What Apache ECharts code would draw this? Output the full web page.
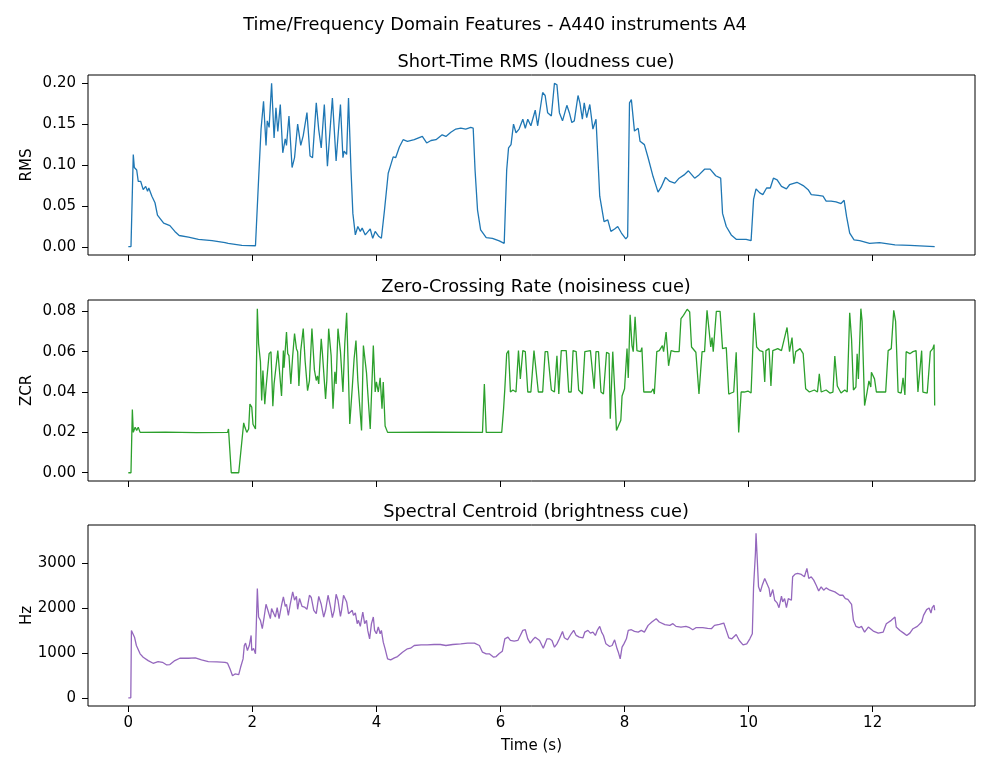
<!DOCTYPE html>
<html>
<head>
<meta charset="utf-8">
<script src="https://cdn.jsdelivr.net/npm/echarts@6/dist/echarts.min.js"></script>
<style>
  html, body { margin: 0; padding: 0; background: #fff; }
  #chart { width: 990px; height: 770px; }
</style>
</head>
<body>
<div id="chart"></div>
<script>
// time (s), value pairs
const rmsPoints = [
  [0, 0.0005], [0.043, 0.0005], [0.08, 0.113], [0.097, 0.097], [0.135, 0.094], [0.16, 0.080], [0.2, 0.080],
  [0.24, 0.070], [0.28, 0.074], [0.31, 0.068], [0.33, 0.072], [0.38, 0.062], [0.43, 0.054], [0.47, 0.039],
  [0.51, 0.035], [0.57, 0.029], [0.60, 0.030], [0.67, 0.026], [0.75, 0.019], [0.82, 0.014], [0.97, 0.012],
  [1.13, 0.0094], [1.35, 0.0078], [1.56, 0.0053], [1.61, 0.0045], [1.83, 0.002], [2.05, 0.0015],
  [2.10, 0.082], [2.14, 0.144], [2.18, 0.178], [2.22, 0.124], [2.24, 0.154], [2.27, 0.146], [2.31, 0.200],
  [2.35, 0.133], [2.38, 0.170], [2.41, 0.141], [2.45, 0.174], [2.49, 0.115], [2.53, 0.132], [2.55, 0.124],
  [2.59, 0.160], [2.64, 0.097], [2.68, 0.109], [2.73, 0.150], [2.78, 0.124], [2.82, 0.136], [2.88, 0.164],
  [2.93, 0.111], [2.97, 0.109], [3.03, 0.176], [3.07, 0.143], [3.11, 0.121], [3.16, 0.174], [3.21, 0.0985],
  [3.29, 0.182], [3.35, 0.105], [3.42, 0.174], [3.46, 0.109], [3.48, 0.117], [3.52, 0.113], [3.55, 0.182],
  [3.59, 0.094], [3.62, 0.041], [3.66, 0.0147], [3.70, 0.025], [3.74, 0.019], [3.77, 0.023], [3.82, 0.0147],
  [3.90, 0.022], [3.94, 0.0106], [3.98, 0.019], [4.04, 0.0127], [4.08, 0.0106], [4.13, 0.045], [4.19, 0.090],
  [4.23, 0.100], [4.27, 0.110], [4.31, 0.109], [4.37, 0.122], [4.43, 0.131], [4.50, 0.129], [4.61, 0.131],
  [4.74, 0.135], [4.81, 0.127], [4.88, 0.130], [4.96, 0.131], [5.06, 0.137], [5.12, 0.135], [5.20, 0.140],
  [5.28, 0.144], [5.36, 0.145], [5.44, 0.144], [5.52, 0.146], [5.56, 0.145], [5.59, 0.094], [5.63, 0.045],
  [5.68, 0.021], [5.77, 0.0114], [5.87, 0.0106], [5.98, 0.0074], [6.06, 0.0045], [6.10, 0.094], [6.13, 0.121],
  [6.17, 0.125], [6.21, 0.150], [6.25, 0.1395], [6.30, 0.144], [6.36, 0.156], [6.40, 0.145], [6.44, 0.156],
  [6.49, 0.148], [6.56, 0.167], [6.60, 0.148], [6.68, 0.1886], [6.72, 0.185], [6.76, 0.164], [6.82, 0.160],
  [6.87, 0.200], [6.91, 0.198], [6.95, 0.164], [7.00, 0.154], [7.07, 0.173], [7.11, 0.164], [7.15, 0.152],
  [7.19, 0.154], [7.25, 0.185], [7.28, 0.176], [7.32, 0.156], [7.35, 0.176], [7.39, 0.158], [7.44, 0.174],
  [7.49, 0.144], [7.54, 0.156], [7.60, 0.062], [7.67, 0.031], [7.73, 0.033], [7.78, 0.019], [7.84, 0.022],
  [7.89, 0.025], [7.95, 0.017], [8.02, 0.0098], [8.05, 0.0127], [8.08, 0.176], [8.11, 0.180], [8.16, 0.1415],
  [8.22, 0.145], [8.25, 0.129], [8.32, 0.125], [8.38, 0.109], [8.46, 0.086], [8.54, 0.067], [8.59, 0.073],
  [8.66, 0.085], [8.73, 0.080], [8.81, 0.078], [8.88, 0.084], [8.96, 0.088], [9.03, 0.093], [9.13, 0.084],
  [9.20, 0.088], [9.29, 0.095], [9.38, 0.095], [9.47, 0.087], [9.55, 0.084], [9.58, 0.041], [9.64, 0.025],
  [9.72, 0.0147], [9.80, 0.0094], [9.96, 0.0094], [10.04, 0.0078], [10.08, 0.058], [10.12, 0.071],
  [10.18, 0.066], [10.23, 0.064], [10.29, 0.072], [10.35, 0.072], [10.40, 0.084], [10.46, 0.082],
  [10.53, 0.074], [10.61, 0.071], [10.66, 0.076], [10.78, 0.079], [10.88, 0.075], [10.96, 0.070],
  [11.01, 0.064], [11.12, 0.063], [11.20, 0.062], [11.25, 0.056], [11.33, 0.056], [11.41, 0.055],
  [11.49, 0.053], [11.54, 0.057], [11.58, 0.037], [11.63, 0.0168], [11.70, 0.0086], [11.79, 0.0078],
  [11.95, 0.0045], [12.11, 0.0053], [12.36, 0.0025], [12.60, 0.002], [13.0, 0.0004]
];

const zcrPoints = [
  [0, 0], [0.043, 0], [0.065, 0.0313], [0.08, 0.020], [0.11, 0.0225], [0.135, 0.021], [0.16, 0.0225],
  [0.19, 0.020], [0.6, 0.0201], [1.1, 0.0199], [1.60, 0.020], [1.615, 0.0217], [1.66, 0], [1.78, 0],
  [1.86, 0.0247], [1.88, 0.0225], [1.91, 0.020], [1.94, 0.0217], [1.96, 0.034], [1.99, 0.0325],
  [2.01, 0.024], [2.05, 0.0217], [2.08, 0.0813], [2.10, 0.064], [2.13, 0.055], [2.15, 0.0358],
  [2.17, 0.0507], [2.20, 0.034], [2.22, 0.042], [2.27, 0.059], [2.30, 0.060], [2.33, 0.033], [2.35, 0.044],
  [2.38, 0.044], [2.41, 0.0605], [2.44, 0.060], [2.47, 0.038], [2.50, 0.0605], [2.51, 0.052],
  [2.55, 0.0697], [2.57, 0.059], [2.59, 0.058], [2.62, 0.044], [2.65, 0.058], [2.68, 0.069], [2.71, 0.0615],
  [2.73, 0.060], [2.75, 0.043], [2.78, 0.0605], [2.82, 0.0714], [2.85, 0.0555], [2.89, 0.0407],
  [2.92, 0.0457], [2.96, 0.0714], [3.00, 0.051], [3.03, 0.0457], [3.05, 0.048], [3.07, 0.044],
  [3.11, 0.0664], [3.13, 0.059], [3.18, 0.0366], [3.20, 0.0457], [3.23, 0.0714], [3.27, 0.058],
  [3.30, 0.0317], [3.33, 0.050], [3.35, 0.044], [3.38, 0.0714], [3.42, 0.060], [3.46, 0.040], [3.49, 0.064],
  [3.52, 0.0793], [3.54, 0.058], [3.57, 0.0242], [3.61, 0.042], [3.64, 0.0565], [3.67, 0.0655],
  [3.70, 0.0457], [3.76, 0.0209], [3.79, 0.063], [3.84, 0.0495], [3.86, 0.040], [3.90, 0.0217],
  [3.95, 0.063], [3.98, 0.040], [4.00, 0.045], [4.03, 0.040], [4.06, 0.047], [4.09, 0.0317], [4.11, 0.045],
  [4.14, 0.0232], [4.18, 0.020], [4.9, 0.0201], [5.71, 0.020], [5.74, 0.044], [5.77, 0.020], [6.02, 0.020],
  [6.05, 0.0317], [6.07, 0.0416], [6.10, 0.059], [6.13, 0.0605], [6.16, 0.040], [6.20, 0.041], [6.25, 0.040],
  [6.29, 0.0605], [6.32, 0.0465], [6.36, 0.0605], [6.40, 0.060], [6.44, 0.040], [6.49, 0.040],
  [6.54, 0.0605], [6.57, 0.060], [6.61, 0.040], [6.68, 0.040], [6.72, 0.060], [6.76, 0.060], [6.82, 0.041],
  [6.87, 0.040], [6.91, 0.058], [6.94, 0.039], [6.98, 0.0605], [7.06, 0.0605], [7.10, 0.040], [7.14, 0.040],
  [7.17, 0.0605], [7.22, 0.060], [7.26, 0.041], [7.32, 0.039], [7.36, 0.060], [7.45, 0.0605], [7.48, 0.060],
  [7.51, 0.0416], [7.54, 0.060], [7.58, 0.060], [7.62, 0.040], [7.66, 0.039], [7.71, 0.0597], [7.75, 0.059],
  [7.77, 0.0267], [7.81, 0.060], [7.84, 0.0416], [7.87, 0.0209], [7.90, 0.020], [7.94, 0.026], [7.96, 0.038],
  [8.00, 0.0416], [8.04, 0.0615], [8.06, 0.047], [8.09, 0.0783], [8.12, 0.063], [8.14, 0.060],
  [8.17, 0.0773], [8.20, 0.0605], [8.26, 0.060], [8.28, 0.062], [8.31, 0.040], [8.43, 0.040],
  [8.46, 0.0416], [8.48, 0.039], [8.52, 0.060], [8.56, 0.0605], [8.61, 0.063], [8.63, 0.060],
  [8.67, 0.0697], [8.71, 0.053], [8.75, 0.0605], [8.81, 0.060], [8.88, 0.060], [8.91, 0.0764],
  [8.95, 0.078], [9.01, 0.081], [9.05, 0.0797], [9.08, 0.0623], [9.15, 0.0597], [9.20, 0.039], [9.25, 0.060],
  [9.29, 0.060], [9.33, 0.0805], [9.36, 0.081], [9.39, 0.0623], [9.41, 0.067], [9.43, 0.060], [9.48, 0.080],
  [9.54, 0.080], [9.58, 0.0615], [9.64, 0.062], [9.68, 0.039], [9.72, 0.0395], [9.76, 0.040],
  [9.80, 0.0597], [9.84, 0.020], [9.88, 0.040], [9.93, 0.040], [9.99, 0.0405], [10.04, 0.0395],
  [10.09, 0.0793], [10.13, 0.0623], [10.18, 0.0605], [10.23, 0.060], [10.26, 0.045], [10.28, 0.0605],
  [10.33, 0.0615], [10.36, 0.043], [10.39, 0.0605], [10.47, 0.0615], [10.53, 0.0605], [10.55, 0.060],
  [10.62, 0.072], [10.66, 0.060], [10.70, 0.067], [10.73, 0.054], [10.76, 0.060], [10.83, 0.0615],
  [10.88, 0.059], [10.92, 0.0416], [10.98, 0.040], [11.06, 0.041], [11.11, 0.040], [11.14, 0.049],
  [11.17, 0.040], [11.25, 0.041], [11.31, 0.0395], [11.36, 0.040], [11.39, 0.0578], [11.43, 0.043],
  [11.49, 0.0395], [11.55, 0.041], [11.59, 0.040], [11.63, 0.0793], [11.66, 0.066], [11.69, 0.041],
  [11.73, 0.0425], [11.75, 0.059], [11.77, 0.0465], [11.81, 0.0813], [11.83, 0.075], [11.87, 0.0333],
  [11.91, 0.040], [11.94, 0.0455], [11.97, 0.0425], [11.98, 0.0498], [12.03, 0.0465], [12.06, 0.040],
  [12.14, 0.040], [12.21, 0.040], [12.25, 0.0605], [12.30, 0.0615], [12.34, 0.0805], [12.37, 0.075],
  [12.41, 0.040], [12.46, 0.0395], [12.49, 0.047], [12.52, 0.0385], [12.54, 0.060], [12.60, 0.059],
  [12.65, 0.060], [12.70, 0.0605], [12.73, 0.040], [12.79, 0.0605], [12.81, 0.040], [12.88, 0.0395],
  [12.93, 0.060], [12.97, 0.0615], [12.99, 0.0635], [13.0, 0.0333]
];

const centroidPoints = [
  [0, 0], [0.04, 0], [0.05, 1500], [0.07, 1515], [0.1, 1350], [0.13, 1164], [0.19, 978], [0.24, 903],
  [0.32, 828], [0.40, 768], [0.48, 806], [0.55, 790], [0.62, 731], [0.67, 740], [0.75, 828], [0.83, 880],
  [0.97, 880], [1.08, 888], [1.18, 843], [1.29, 806], [1.43, 800], [1.56, 790], [1.60, 770], [1.64, 642],
  [1.68, 492], [1.72, 530], [1.78, 515], [1.81, 679], [1.85, 866], [1.87, 1164], [1.89, 1216], [1.92, 1052],
  [1.95, 1164], [1.98, 1388], [1.99, 1052], [2.02, 1100], [2.05, 978], [2.08, 2433], [2.10, 1798],
  [2.13, 1724], [2.16, 1538], [2.19, 1798], [2.22, 2082], [2.25, 1948], [2.29, 1761], [2.31, 1985],
  [2.34, 2000], [2.37, 1798], [2.40, 2007], [2.43, 1761], [2.47, 2060], [2.50, 2246], [2.53, 2037],
  [2.55, 2082], [2.58, 1836], [2.61, 2082], [2.65, 2358], [2.68, 2172], [2.71, 2260], [2.73, 1970],
  [2.76, 2209], [2.80, 2037], [2.84, 2020], [2.88, 1970], [2.92, 2283], [2.95, 2232], [2.99, 1948],
  [3.03, 1873], [3.07, 2258], [3.11, 2082], [3.15, 1798], [3.18, 1948], [3.22, 2283], [3.26, 2022],
  [3.29, 1783], [3.32, 1948], [3.35, 2305], [3.38, 2172], [3.42, 1813], [3.44, 1963], [3.47, 2283],
  [3.50, 2320], [3.52, 2134], [3.55, 1873], [3.58, 1836], [3.61, 1948], [3.63, 1836], [3.66, 1888],
  [3.69, 1650], [3.71, 1724], [3.74, 1590], [3.78, 1910], [3.81, 1650], [3.84, 1724], [3.86, 1500],
  [3.89, 1313], [3.92, 1650], [3.95, 1798], [3.97, 1500], [4.00, 1425], [4.03, 1575], [4.06, 1425],
  [4.08, 1500], [4.11, 1238], [4.14, 1090], [4.18, 866], [4.23, 843], [4.29, 888], [4.34, 918], [4.42, 1015],
  [4.50, 1090], [4.55, 1104], [4.61, 1164], [4.72, 1179], [4.82, 1179], [4.93, 1186], [5.03, 1186],
  [5.12, 1164], [5.23, 1186], [5.36, 1201], [5.47, 1216], [5.58, 1216], [5.66, 1164], [5.71, 1015],
  [5.77, 978], [5.82, 978], [5.89, 903], [5.93, 918], [5.98, 985], [6.03, 1037], [6.07, 1313], [6.12, 1350],
  [6.16, 1276], [6.19, 1313], [6.22, 1261], [6.28, 1276], [6.32, 1388], [6.36, 1500], [6.40, 1515],
  [6.44, 1313], [6.48, 1216], [6.52, 1291], [6.56, 1350], [6.58, 1388], [6.63, 1276], [6.69, 1104],
  [6.75, 1313], [6.79, 1313], [6.83, 1276], [6.87, 1127], [6.91, 1201], [6.95, 1313], [7.00, 1478],
  [7.03, 1336], [7.08, 1291], [7.14, 1425], [7.18, 1500], [7.22, 1388], [7.27, 1350], [7.33, 1336],
  [7.36, 1463], [7.41, 1500], [7.45, 1440], [7.49, 1463], [7.53, 1388], [7.56, 1500], [7.60, 1590],
  [7.63, 1463], [7.66, 1388], [7.70, 1201], [7.76, 1142], [7.80, 1164], [7.84, 1291], [7.88, 1090],
  [7.90, 1015], [7.93, 866], [7.96, 1127], [7.99, 1201], [8.03, 1313], [8.05, 1350], [8.06, 1500],
  [8.11, 1515], [8.16, 1478], [8.22, 1463], [8.27, 1500], [8.32, 1463], [8.38, 1612], [8.44, 1687],
  [8.51, 1761], [8.56, 1687], [8.65, 1627], [8.73, 1612], [8.78, 1650], [8.83, 1590], [8.91, 1575],
  [8.99, 1590], [9.05, 1560], [9.10, 1515], [9.15, 1560], [9.26, 1560], [9.34, 1545], [9.40, 1538],
  [9.45, 1612], [9.53, 1635], [9.60, 1664], [9.64, 1500], [9.68, 1336], [9.73, 1313], [9.80, 1410],
  [9.85, 1276], [9.91, 1179], [9.97, 1201], [10.02, 1313], [10.06, 1425], [10.08, 2470], [10.11, 3216],
  [10.12, 3664], [10.14, 3067], [10.16, 2470], [10.19, 2358], [10.22, 2507], [10.26, 2656], [10.29, 2619],
  [10.33, 2433], [10.35, 2246], [10.39, 2410], [10.42, 2172], [10.46, 2112], [10.49, 2007], [10.53, 2261],
  [10.55, 2134], [10.58, 2209], [10.61, 2007], [10.64, 2209], [10.69, 2172], [10.71, 2694], [10.75, 2754],
  [10.79, 2768], [10.85, 2746], [10.90, 2694], [10.94, 2880], [10.97, 2656], [11.01, 2694], [11.05, 2619],
  [11.09, 2507], [11.13, 2380], [11.17, 2470], [11.21, 2395], [11.25, 2447], [11.31, 2395], [11.39, 2358],
  [11.47, 2283], [11.52, 2283], [11.56, 2209], [11.60, 2190], [11.66, 2082], [11.69, 1724], [11.73, 1590],
  [11.78, 1560], [11.82, 1590], [11.87, 1463], [11.93, 1575], [12.01, 1485], [12.09, 1440], [12.17, 1463],
  [12.22, 1650], [12.30, 1724], [12.36, 1798], [12.38, 1575], [12.44, 1500], [12.50, 1440], [12.55, 1388],
  [12.60, 1440], [12.65, 1538], [12.72, 1590], [12.79, 1687], [12.82, 1836], [12.87, 1963], [12.91, 2000],
  [12.94, 1888], [12.96, 2007], [12.99, 2060], [13.0, 1948]
];

const timeTicks = [0, 2, 4, 6, 8, 10, 12];
const rmsTicks = [0, 0.05, 0.1, 0.15, 0.2];
const zcrTicks = [0, 0.02, 0.04, 0.06, 0.08];
const hzTicks = [0, 1000, 2000, 3000];

const panelTitles = ["Short-Time RMS (loudness cue)", "Zero-Crossing Rate (noisiness cue)", "Spectral Centroid (brightness cue)"];
const yNames = ["RMS", "ZCR", "Hz"];
const lineColors = ["#1f77b4", "#2ca02c", "#9467bd"];

const FONT = "DejaVu Sans";
const tops = [75, 300, 525];
const heights = [180, 181, 181];
const yRanges = [[-0.0098, 0.21], [-0.0041, 0.0856], [-183, 3847]];
const yTickSets = [rmsTicks, zcrTicks, hzTicks];
const yFormat = [(v) => v.toFixed(2), (v) => v.toFixed(2), (v) => String(v)];
const pointSets = [rmsPoints, zcrPoints, centroidPoints];

const chart = echarts.init(document.getElementById("chart"), null, { renderer: "canvas" });

const option = {
  animation: false,
  backgroundColor: "#fff",
  textStyle: { fontFamily: FONT, color: "#000" },
  title: [
    {
      text: "Time/Frequency Domain Features - A440 instruments A4",
      left: 490, textAlign: "center", top: 11,
      textStyle: { fontFamily: FONT, fontSize: 17.8, fontWeight: "normal", color: "#000" },
    },
  ].concat(panelTitles.map((t, i) => ({
    text: t,
    left: 531, textAlign: "center", top: tops[i] - 27,
    textStyle: { fontFamily: FONT, fontSize: 17.8, fontWeight: "normal", color: "#000" },
  }))),
  grid: tops.map((top, i) => ({
    left: 88, width: 887, top: top, height: heights[i],
    show: true, borderColor: "#000", borderWidth: 1, backgroundColor: "transparent",
  })),
  xAxis: tops.map((_, i) => ({
    type: "value", gridIndex: i, min: -0.65, max: 13.65,
    name: i === 2 ? "Time (s)" : "",
    nameLocation: "middle", nameGap: 33,
    nameTextStyle: { fontFamily: FONT, fontSize: 15, color: "#000" },
    axisLine: { show: false, onZero: false },
    axisTick: { show: true, inside: false, length: 6, customValues: timeTicks, lineStyle: { color: "#000", width: 1 } },
    axisLabel: { show: i === 2, customValues: timeTicks, margin: 10, fontFamily: FONT, fontSize: 15, color: "#000" },
    splitLine: { show: false },
  })),
  yAxis: tops.map((_, i) => ({
    type: "value", gridIndex: i, min: yRanges[i][0], max: yRanges[i][1],
    name: yNames[i], nameLocation: "middle", nameRotate: 90, nameGap: 53, nameMoveOverlap: false,
    nameTextStyle: { fontFamily: FONT, fontSize: 15, color: "#000" },
    axisLine: { show: false, onZero: false },
    axisTick: { show: true, inside: false, length: 6, customValues: yTickSets[i], lineStyle: { color: "#000", width: 1 } },
    axisLabel: { customValues: yTickSets[i], formatter: yFormat[i], margin: 12, fontFamily: FONT, fontSize: 15, color: "#000" },
    splitLine: { show: false },
  })),
  series: pointSets.map((pts, i) => ({
    type: "line", xAxisIndex: i, yAxisIndex: i, data: pts,
    showSymbol: false, symbol: "none",
    lineStyle: { color: lineColors[i], width: 1.3 },
    clip: true,
  })),
};

chart.setOption(option);
</script>
</body>
</html>
